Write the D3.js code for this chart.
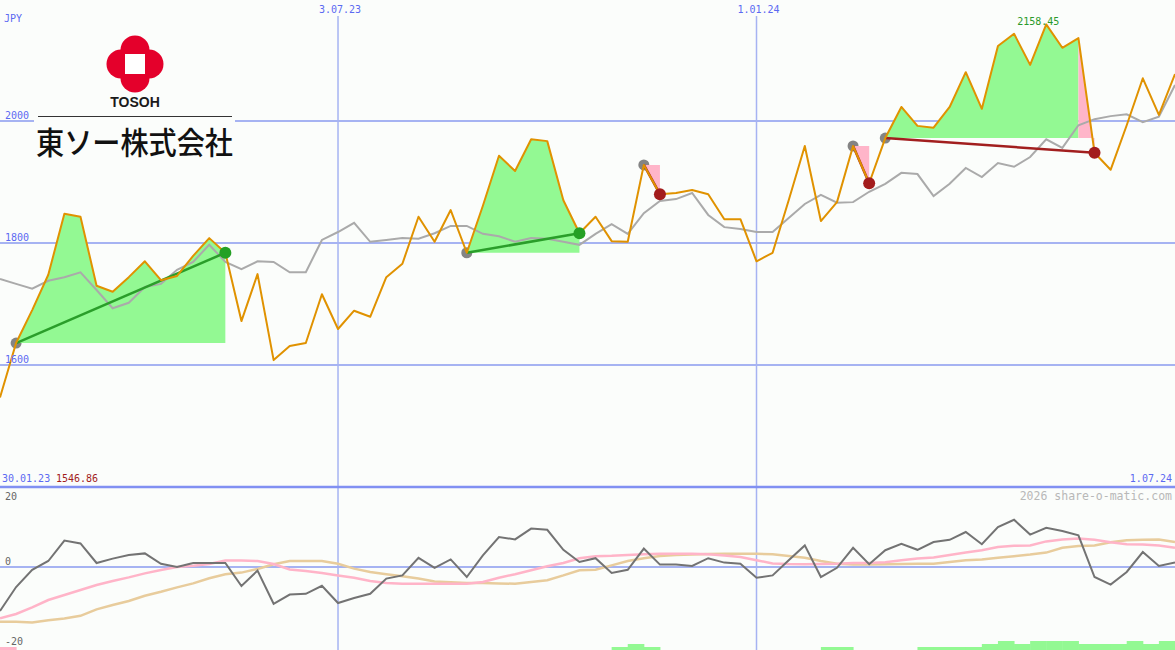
<!DOCTYPE html>
<meta charset="utf-8">
<style>
body { margin: 0; background: #fbfdfb; }
svg { display: block; }
text { font-family: "DejaVu Sans Mono", monospace; font-size: 10px; }
</style>
<svg width="1175" height="650"></svg>
<script src="https://cdn.jsdelivr.net/npm/d3@7"></script>
<script>

// weekly closes, 6 Feb 2023 .. 1 Jul 2024
var startDate = new Date(Date.UTC(2023, 1, 6)),
    endDate = new Date(Date.UTC(2024, 6, 1));

var price = [1546.86, 1636, 1690, 1748, 1848, 1843, 1730, 1720, 1744, 1770,
  1739, 1746, 1779, 1808, 1784, 1672, 1749, 1608, 1631, 1636,
  1716, 1659, 1689, 1679, 1744, 1766, 1843, 1802, 1854, 1784,
  1861, 1943, 1918, 1970, 1967, 1870, 1816, 1843, 1803, 1802,
  1928, 1880, 1882, 1887, 1880, 1839, 1839, 1770, 1784, 1870,
  1959, 1836, 1867, 1959, 1898, 1972, 2023, 1992, 1989, 2023,
  2080, 2020, 2123, 2143, 2092, 2158.45, 2120, 2136, 1948, 1920,
  1993, 2070, 2010, 2077];

var average = [1741, 1733, 1725, 1738, 1744, 1752, 1723, 1693, 1702, 1728,
  1733, 1756, 1769, 1797, 1769, 1757, 1770, 1769, 1752, 1752,
  1805, 1818, 1833, 1802, 1805, 1808, 1807, 1816, 1828, 1828,
  1815, 1811, 1802, 1808, 1807, 1802, 1797, 1815, 1831, 1815,
  1849, 1869, 1872, 1882, 1846, 1826, 1823, 1818, 1818, 1841,
  1864, 1879, 1866, 1867, 1884, 1897, 1915, 1913, 1877, 1897,
  1923, 1908, 1931, 1925, 1941, 1970, 1956, 1993, 2003, 2008,
  2011, 1998, 2007, 2059];

// lower panel
var momentum = [-11, -5, -0.7, 1.5, 6.6, 5.9, 1, 2.1, 3, 3.4,
  0.8, 0, 1, 1, 1, -4.75, -0.9, -9.2, -6.9, -6.7,
  -4.7, -9, -7.75, -6.7, -2.9, -2.1, 2.3, -0.2, 1.9, -2.5,
  2.9, 7.5, 6.9, 9.6, 9.3, 4.3, 1.25, 2.2, -1.5, -0.7,
  4.6, 0.6, 0.6, 0.25, 2.2, 1.1, 0.8, -2.7, -2.1, 1.7,
  5.4, -2.5, -0.2, 4.8, 0.7, 4.2, 5.8, 4.3, 6.25, 6.8,
  8.75, 5.7, 10, 11.8, 8.1, 9.8, 9, 7.9, -2.5, -4.4,
  -1.25, 3.75, 0.25, 1.1];

var signalPink = [-12.8, -11.75, -10.1, -8.25, -7, -5.75, -4.5, -3.5, -2.6, -1.6,
  -0.75, 0, 0.3, 0.75, 1.6, 1.6, 1.5, 0.75, -0.6, -1,
  -1.5, -2.1, -2.7, -3.5, -4, -4.2, -4.2, -4.2, -4.2, -4.2,
  -3.75, -2.7, -1.8, -0.8, 0.2, 1, 2.2, 2.7, 2.8, 3.0,
  3.2, 3.3, 3.3, 3.3, 3.2, 2.9, 2.5, 1.7, 0.9, 0.75,
  0.7, 0.75, 0.8, 1, 1, 1.2, 1.7, 2.1, 2.4, 3,
  3.6, 4.2, 5, 5.3, 5.4, 6.4, 6.9, 7.1, 6.8, 6.2,
  5.7, 5.6, 5.4, 4.8];

var signalTan = [-13.7, -13.7, -13.9, -13.3, -12.9, -12.2, -10.6, -9.5, -8.5, -7.2,
  -6.2, -5.1, -4.1, -2.8, -1.8, -1.4, -0.5, 0.7, 1.5, 1.5,
  1.5, 0.8, -0.4, -1.25, -1.8, -2.3, -2.9, -3.6, -3.8, -4,
  -4, -4.1, -4.2, -3.75, -3.3, -2.1, -0.8, -0.7, 0.4, 1.5,
  2.2, 2.75, 3, 3.1, 3.25, 3.3, 3.3, 3.3, 3.2, 2.75,
  2.3, 1.5, 0.8, 0.6, 0.6, 0.7, 0.75, 0.8, 0.8, 1.25,
  1.7, 1.9, 2.3, 2.7, 3.1, 3.6, 4.8, 5.25, 5.4, 6.2,
  6.7, 6.8, 6.9, 6.25];

var bars = [-1, 0, 0, 0, 0, 0, 0, 0, 0, 0,
  0, 0, 0, 0, 0, 0, 0, 0, 0, 0,
  0, 0, 0, 0, 0, 0, 0, 0, 0, 0,
  0, 0, 0, 0, 0, 0, 0, 0, 1, 2,
  1, 0, 0, 0, 0, 0, 0, 0, 0, 0,
  0, 1, 1, 0, 0, 0, 0, 1, 1, 1,
  1, 2, 3, 2, 3, 3, 3, 2, 2, 2,
  3, 2, 3, 0];

// [entry week, exit week]
var trades = [[1, 14], [29, 36], [40, 41], [53, 54], [55, 68]];

var priceTicks = [1600, 1800, 2000];
var dateTicks = [new Date(Date.UTC(2023, 6, 3)), new Date(Date.UTC(2024, 0, 1))];
var lowerTicks = [20, 0, -20];

var svg = d3.select("svg"),
    width = +svg.attr("width"),
    height = +svg.attr("height"),
    panelBottom = 487,
    bg = "#fbfdfb";

var weeks = d3.utcMonday.range(startDate, d3.utcDay.offset(endDate, 1));
var data = weeks.map(function(d, i) {
  return {date: d, close: price[i], avg: average[i], mom: momentum[i],
          pink: signalPink[i], tan: signalTan[i], bar: bars[i]};
});

var x = d3.scaleUtc().domain([startDate, endDate]).range([0, width]);
var y = d3.scaleLinear().domain([1400, 2000]).range([panelBottom, 121]);
var y2 = d3.scaleLinear().domain([-20, 20]).range([647, panelBottom]);
var yBar = d3.scaleLinear().domain([0, 3]).range([650, 641]);

var blue = "#5b6af2", grid = "#a6b3f2";

svg.append("rect").attr("width", width).attr("height", height).attr("fill", bg);

// horizontal grid
svg.selectAll(".hgrid")
    .data(priceTicks)
  .enter().append("line")
    .attr("x1", 0).attr("x2", width)
    .attr("y1", function(d) { return y(d); })
    .attr("y2", function(d) { return y(d); })
    .attr("stroke", grid)
    .attr("stroke-width", 2);

svg.append("line")
    .attr("x1", 0).attr("x2", width)
    .attr("y1", y2(0)).attr("y2", y2(0))
    .attr("stroke", grid)
    .attr("stroke-width", 2);

// vertical date lines
svg.selectAll(".vgrid")
    .data(dateTicks)
  .enter().append("line")
    .attr("x1", function(d) { return x(d); })
    .attr("x2", function(d) { return x(d); })
    .attr("y1", 16).attr("y2", height)
    .attr("stroke", grid)
    .attr("stroke-width", 1.5);

svg.append("line")
    .attr("x1", 0).attr("x2", width)
    .attr("y1", panelBottom).attr("y2", panelBottom)
    .attr("stroke", "#8190f2")
    .attr("stroke-width", 2.5);

// entry markers sit under the fills
svg.selectAll(".entry")
    .data(trades)
  .enter().append("circle")
    .attr("cx", function(t) { return x(data[t[0]].date); })
    .attr("cy", function(t) { return y(data[t[0]].close); })
    .attr("r", 5.5)
    .attr("fill", "#848484");

// trade fills: green while the week closes above entry, pink below
trades.forEach(function(t) {
  var level = data[t[0]].close;
  var area = d3.area()
      .x(function(d) { return x(d.date); })
      .y0(y(level))
      .y1(function(d) { return y(d.close); });
  var runs = [];
  for (var i = t[0]; i < t[1]; i++) {
    var up = data[i + 1].close >= level;
    var last = runs[runs.length - 1];
    if (last && last.up === up) last.end = i + 1;
    else runs.push({up: up, start: i, end: i + 1});
  }
  runs.forEach(function(r) {
    svg.append("path")
        .datum(data.slice(r.start, r.end + 1))
        .attr("fill", r.up ? "#93f993" : "#ffb5c9")
        .attr("d", area);
  });
});

var line = d3.line()
    .x(function(d) { return x(d.date); })
    .y(function(d) { return y(d.close); });

var avgLine = d3.line()
    .x(function(d) { return x(d.date); })
    .y(function(d) { return y(d.avg); });

svg.append("path")
    .datum(data)
    .attr("fill", "none")
    .attr("stroke", "#aaaaaa")
    .attr("stroke-width", 2)
    .attr("d", avgLine);

svg.selectAll(".trade")
    .data(trades)
  .enter().append("line")
    .attr("x1", function(t) { return x(data[t[0]].date); })
    .attr("y1", function(t) { return y(data[t[0]].close); })
    .attr("x2", function(t) { return x(data[t[1]].date); })
    .attr("y2", function(t) { return y(data[t[1]].close); })
    .attr("stroke", function(t) { return data[t[1]].close >= data[t[0]].close ? "#2a9e2a" : "#a21f1f"; })
    .attr("stroke-width", 2.5);

svg.append("path")
    .datum(data)
    .attr("fill", "none")
    .attr("stroke", "#e09200")
    .attr("stroke-width", 2)
    .attr("stroke-linejoin", "round")
    .attr("d", line);

svg.selectAll(".exit")
    .data(trades)
  .enter().append("circle")
    .attr("cx", function(t) { return x(data[t[1]].date); })
    .attr("cy", function(t) { return y(data[t[1]].close); })
    .attr("r", 6)
    .attr("fill", function(t) { return data[t[1]].close >= data[t[0]].close ? "#25a025" : "#a31c1c"; });

// lower panel
svg.selectAll(".bar")
    .data(data.filter(function(d) { return d.bar !== 0; }))
  .enter().append("rect")
    .attr("x", function(d) { return x(d.date); })
    .attr("width", function(d) { return x(d3.utcDay.offset(d.date, 7)) - x(d.date) + 0.5; })
    .attr("y", function(d) { return yBar(Math.abs(d.bar)); })
    .attr("height", function(d) { return yBar(0) - yBar(Math.abs(d.bar)); })
    .attr("fill", function(d) { return d.bar > 0 ? "#93f993" : "#ffb5c9"; });

[["tan", "#e8cc9c"], ["pink", "#ffb4c8"], ["mom", "#737373"]].forEach(function(s) {
  svg.append("path")
      .datum(data)
      .attr("fill", "none")
      .attr("stroke", s[1])
      .attr("stroke-width", s[0] === "mom" ? 2 : 2.5)
      .attr("d", d3.line()
          .x(function(d) { return x(d.date); })
          .y(function(d) { return y2(d[s[0]]); }));
});

// labels
var fmt = d3.utcFormat("%-d.%m.%y");

svg.append("text").attr("x", 4).attr("y", 22).attr("fill", blue).text("JPY");

svg.selectAll(".plabel")
    .data(priceTicks)
  .enter().append("text")
    .attr("x", 5)
    .attr("y", function(d) { return y(d) - 2; })
    .attr("fill", blue)
    .text(function(d) { return d; });

svg.selectAll(".dlabel")
    .data(dateTicks)
  .enter().append("text")
    .attr("x", function(d) { return x(d) + 2; })
    .attr("y", 13)
    .attr("text-anchor", "middle")
    .attr("fill", blue)
    .text(function(d) { return fmt(d); });

svg.append("text").attr("x", 2).attr("y", 482).attr("fill", blue).text("30.01.23");
svg.append("text").attr("x", 56).attr("y", 482).attr("fill", "#a31c1c")
    .text(d3.min(price).toFixed(2));
svg.append("text").attr("x", 1172).attr("y", 482).attr("text-anchor", "end")
    .attr("fill", blue).text(fmt(endDate));
svg.append("text").attr("x", 1172).attr("y", 500).attr("text-anchor", "end")
    .attr("fill", "#b8b8b8").style("font-size", "11.5px").text("2026 share-o-matic.com");

var maxI = d3.maxIndex(price);
svg.append("text")
    .attr("x", x(data[maxI].date) - 8)
    .attr("y", 25)
    .attr("text-anchor", "middle")
    .attr("fill", "#2a9a2a")
    .text(price[maxI].toFixed(2));

svg.selectAll(".llabel")
    .data(lowerTicks)
  .enter().append("text")
    .attr("x", 5)
    .attr("y", function(d) { return d === 20 ? 500 : y2(d) - 2; })
    .attr("fill", "#666")
    .text(function(d) { return d; });

// company logo
var logo = svg.append("g");
logo.append("rect").attr("x", 34).attr("y", 30).attr("width", 201).attr("height", 132).attr("fill", bg);
[[0, -14], [0, 14], [-14, 0], [14, 0]].forEach(function(o) {
  logo.append("circle").attr("cx", 135 + o[0]).attr("cy", 64 + o[1]).attr("r", 14.5).attr("fill", "#e4002b");
});
logo.append("rect").attr("x", 121).attr("y", 50).attr("width", 28).attr("height", 28).attr("fill", "#e4002b");
logo.append("rect").attr("x", 125).attr("y", 54).attr("width", 20).attr("height", 20).attr("fill", "#fff");
logo.append("text")
    .attr("x", 135).attr("y", 107)
    .attr("text-anchor", "middle")
    .style("font-family", "'Liberation Sans', Arial, sans-serif")
    .style("font-size", "14px")
    .style("font-weight", "bold")
    .attr("fill", "#1a1a1a")
    .text("TOSOH");
logo.append("line").attr("x1", 38).attr("x2", 232).attr("y1", 116.5).attr("y2", 116.5)
    .attr("stroke", "#333").attr("stroke-width", 1);
logo.append("text")
    .attr("x", 36).attr("y", 154)
    .attr("textLength", 197)
    .attr("lengthAdjust", "spacingAndGlyphs")
    .style("font-family", "'Noto Sans CJK JP', sans-serif")
    .style("font-size", "31px")
    .style("font-weight", 500)
    .attr("fill", "#111")
    .text("東ソー株式会社");

</script>
